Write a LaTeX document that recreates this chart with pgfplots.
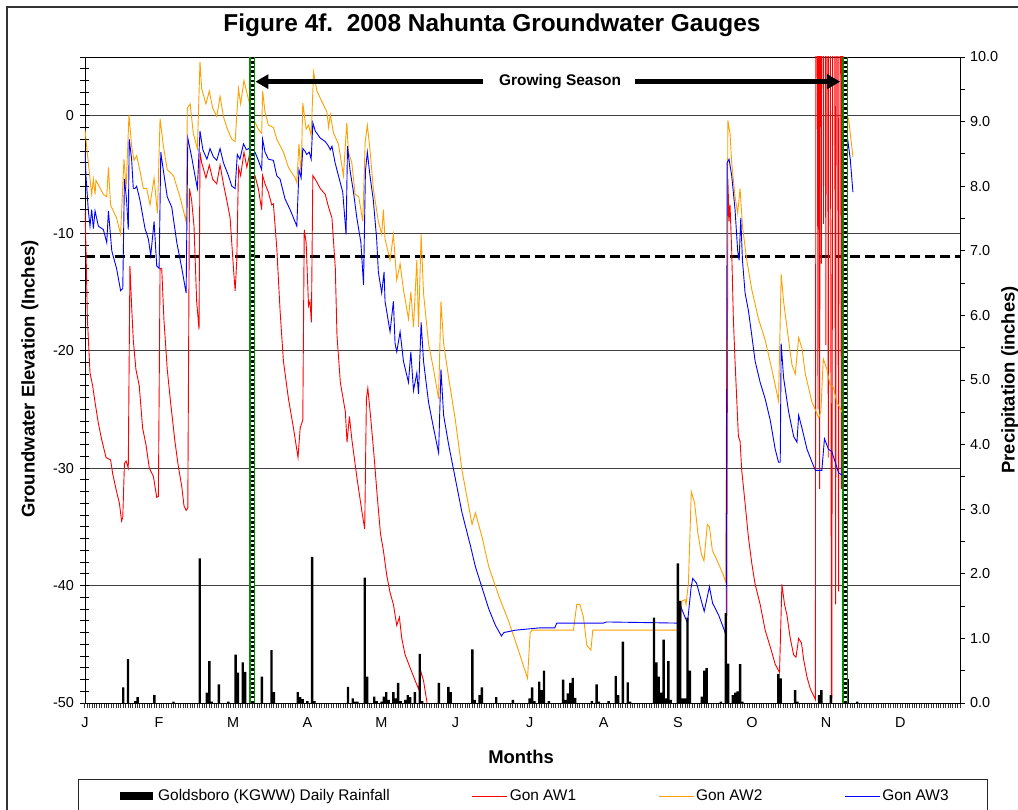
\documentclass[border=0pt]{standalone}
\usepackage{pgfplots}
\pgfplotsset{compat=1.18}
\usepackage{fontspec}
\setmainfont{Liberation Sans}
\usetikzlibrary{arrows.meta}
\definecolor{aw1}{RGB}{255,0,0}
\definecolor{aw2}{RGB}{255,160,0}
\definecolor{aw3}{RGB}{0,0,255}
\definecolor{gsgreen}{RGB}{0,140,0}
\begin{document}
\begin{tikzpicture}[x=1bp,y=1bp]
\path[use as bounding box] (-85,-107) rectangle (933,703);
\draw[black!80,line width=1.6bp] (-78,-140) rectangle (950,696);
% ---------------- groundwater axis ----------------
\begin{axis}[
  at={(0,0)}, anchor=south west,
  scale only axis, width=875bp, height=646bp,
  xmin=0, xmax=366, ymin=-50, ymax=5,
  xtick=\empty,
  ytick={-50,-40,...,0},
  minor ytick={-49,-48,...,5},
  ytick pos=left,
  tick align=center, major tick length=9bp, minor tick length=9bp,
  tick style={black,line width=0.8bp},
  axis line style={black,line width=0.9bp},
  ymajorgrids, grid style={black!75,line width=0.9bp},
  /pgf/number format/assume math mode=true,
  yticklabel style={font=\fontsize{14.5}{16}\selectfont, xshift=-3bp},
  ylabel={Groundwater Elevation (Inches)},
  ylabel style={at={(axis description cs:-0.0629,0.5015)}, anchor=center, font=\fontsize{18.5}{21}\selectfont\bfseries},
  xlabel={Months},
  xlabel style={at={(axis description cs:0.4983,-0.0836)}, anchor=center, font=\fontsize{18.5}{21}\selectfont\bfseries},
  title={Figure 4f.\ \ 2008 Nahunta Groundwater Gauges},
  title style={at={(axis description cs:0.4651,1.0402)}, anchor=center, font=\fontsize{24.5}{28}\selectfont\bfseries},
]
\addplot[black, line width=2.6bp, dash pattern=on 10bp off 5bp, forget plot] coordinates {(0,-12) (366,-12)};
% Gon AW1
\addplot[aw1, line width=0.9bp, forget plot] coordinates {
(0,-8.0) (0.4,-11.2) (1,-17.3) (2.1,-21.9) (3.2,-23.0) (4.2,-24.4) (5.6,-26.2) (7,-27.6) (8.8,-29.1) (10.7,-29.3) (11.6,-30.5) (13.2,-32) (14.4,-33.0) (15.3,-34.5) (15.8,-34.2) (16.5,-29.6) (17.2,-29.4) (18.1,-30.0) (18.8,-12.8) (19.5,-16.2) (20.2,-19.1) (21.3,-21.6) (22.7,-23.0) (24.1,-26.6) (25.5,-28.0) (26.9,-30.0) (28.6,-30.7) (30,-32.5) (30.7,-32.4) (31.4,-13.0) (32.1,-13.0) (33,-17.3) (34.4,-21.6) (35.8,-24.4) (37.6,-27.7) (39,-29.8) (40.5,-31.6) (41.4,-33.2) (42.3,-33.6) (43,-33.4) (43.7,-6.2) (44.6,-7.2) (45.6,-9.4) (46.7,-15.8) (47.7,-18.2) (48.1,-3.1) (48.8,-4.0) (50.6,-5.3) (52,-4.2) (53.4,-5.4) (55.1,-5.8) (56.5,-4.2) (57.9,-5.8) (59.3,-7.2) (60.7,-8.7) (62.1,-13.0) (62.8,-14.9) (63.5,-12.3) (64.2,-4.4) (65.1,-5.1) (66.5,-3.1) (67.7,-4.4) (68.8,-3.3) (69.7,-5.1) (71.1,-5.1) (72.5,-6.2) (73.9,-8.0) (74.3,-5.1) (75.3,-5.8) (76.7,-6.5) (78.1,-7.6) (78.8,-7.5) (80.2,-11.2) (81.6,-16.6) (83,-20.9) (85.1,-24.1) (87.2,-26.6) (89.1,-29.1) (90,-26.6) (91.1,-25.9) (91.7,-9.7) (92.5,-10.8) (93.5,-16.2) (94.1,-15.8) (94.7,-17.6) (95.3,-5.1) (96.3,-5.4) (98.4,-6.2) (100.5,-6.7) (101.9,-7.8) (103.3,-8.7) (104.7,-13.0) (105.4,-18.7) (106.8,-22.7) (108.9,-25.2) (109.6,-27.8) (110.6,-25.6) (111.7,-27.7) (113.8,-30.9) (115.9,-33.8) (117,-35.2) (117.7,-24.1) (118.3,-23.2) (119.4,-25.5) (120.8,-28.7) (122.2,-32.3) (123.6,-35.6) (124.8,-37.0) (126.2,-39.1) (127.6,-40.6) (129,-41.6) (130.4,-43.4) (131.5,-42.7) (132.5,-44.5) (133.9,-45.9) (136,-47.0) (138.1,-48.1) (139.5,-48.8) (140.6,-47.4) (141.6,-48.1) (143,-49.9) (144,-51.5) (268.3,-55) (268.9,-5.4) (269.4,-9.0) (269.8,-7.6) (270.5,-11.5) (271.2,-17.3) (271.9,-20.9) (272.6,-24.1) (273.3,-27.3) (274,-27.7) (274.7,-30.2) (276.1,-33.0) (277.5,-35.9) (278.9,-38.1) (280.3,-39.9) (282.4,-41.6) (284.5,-43.8) (286.6,-45.2) (288.7,-46.7) (290.5,-47.4) (291.5,-39.9) (292.6,-41.6) (293.6,-42.5) (295,-44.5) (296.4,-45.9) (297.4,-46.1) (298.5,-44.5) (299.7,-44.9) (300.6,-46.3) (302,-47.8) (303.4,-48.8) (304.8,-49.4) (305.5,-49.7)
(305.9,60) (306.6,-25) (306.9,60) (307.3,-31.8) (307.6,60) (308.0,-12.6) (308.4,60) (308.9,-9.2) (309.3,60) (309.9,-19.5) (310.3,60) (310.9,-29.1) (311.4,60) (312.3,-60) (313.1,60) (314.0,-41.6) (314.4,60) (315.2,-40.5) (315.6,60) (316.4,-31.8) (316.9,60) (317.3,-33)
};
% Gon AW2
\addplot[aw2, line width=0.9bp, forget plot] coordinates {
(0,-1.2) (0.4,-2.0) (2.1,-5.4) (2.8,-6.7) (3.5,-5.4) (4.2,-6.7) (4.6,-5.5) (7.7,-6.7) (9.1,-6.9) (9.8,-4.4) (10.7,-7.6) (13.2,-8.7) (14.9,-10.1) (16.3,-3.7) (17.2,-6.2) (18.4,0.1) (19.5,-2.6) (20.5,-3.8) (21.6,-3.4) (23,-4.7) (24.4,-6.2) (25.8,-6.2) (27.2,-7.6) (28.9,-5.3) (30.3,-8.3) (31.4,-0.25) (32.8,-2.6) (34.4,-4.6) (37,-5.1) (39.7,-6.9) (42.3,-9.0) (42.8,0.65) (44,1.0) (45.3,-1.5) (47,-2.8) (48.1,4.6) (48.8,2.3) (50.6,1.0) (52,2.1) (53.4,0.65) (55.1,-0.07) (56.5,1.65) (57.9,-0.07) (59.3,-1.0) (61.4,-2.0) (62.8,-2.2) (64.2,2.3) (65.1,1.0) (66.5,3.0) (68,1.7) (69.3,0.65) (70.7,-0.4) (72.5,-1.15) (73.9,-1.5) (74.3,2.1) (75.3,0.3) (76.7,-0.8) (78.8,-1.0) (80.2,-2.0) (83,-3.1) (85.1,-4.4) (87.9,-5.3) (88.6,-5.7) (89.5,-2.4) (90.4,-5.1) (91.1,1.1) (92.5,-1.15) (93.5,-0.8) (94.6,-1.7) (95.6,3.7) (97,2.1) (99.1,1.2) (101.2,0.3) (101.9,-1.0) (102.6,0.1) (104,-1.5) (106,-2.4) (108.1,-5.1) (109.5,-0.6) (110.2,-3.1) (111.6,-4.0) (113,-6.7) (114.5,-6.9) (116.2,-9.0) (117.2,-2.2) (118.1,-0.8) (119.2,-2.9) (120.6,-6.2) (122.7,-9.0) (124.1,-10.1) (124.8,-8.0) (125.5,-10.5) (127.6,-12.3) (129,-10.1) (130.4,-14.0) (131.8,-12.6) (133.2,-14.8) (135.3,-17.3) (136.3,-15.0) (137.4,-18.0) (138.8,-12.3) (139.5,-18.0) (140.6,-10.1) (141.6,-15.1) (143.7,-19.4) (145.8,-21.6) (147.9,-24.1) (148.9,-15.8) (150,-19.4) (152.1,-22.3) (154.9,-25.9) (157.7,-30.2) (161.9,-34.8) (163.3,-33.8) (166.1,-35.9) (168.9,-38.4) (173.1,-40.9) (177.3,-43.1) (180.8,-45.2) (184.3,-47.4) (185.1,-47.9) (186.2,-44.0) (187,-43.8) (204.3,-43.8) (205.7,-41.6) (207,-41.6) (208.5,-42.7) (209.9,-45.1) (211.6,-45.5) (212.4,-43.8) (249,-43.8) (249.7,-41.3) (251,-41.2) (251.4,-41.6) (252.4,-39.8) (253.6,-32.0) (255,-33.0) (256.4,-35.6) (257.8,-37.3) (258.9,-37.9) (260.3,-34.8) (261.2,-35.0) (262.4,-37.0) (264.9,-38.1) (267,-39.1) (268,-39.7) (268.9,-0.4) (269.8,-1.5) (270.5,-4.0) (271.9,-6.9) (273,-8.3) (274,-6.2) (275,-9.4) (276.8,-12.3) (278.9,-14.8) (281.7,-17.3) (284.5,-19.1) (287.3,-21.6) (290.1,-24.3) (291.2,-13.5) (292.2,-15.8) (294.3,-19.1) (295.7,-21.2) (297.1,-22.0) (298.5,-18.9) (299.9,-19.8) (301.3,-22.0) (304.1,-24.4) (306.9,-25.7) (307.8,-25.2) (308.8,-20.7) (310.2,-21.5) (311.7,-23.0) (313,-23.1) (314.5,-24.4) (316.6,-25.2) (317.3,-25.2) (318,-12.3) (318.7,-0.1) (319.4,-0.25) (320.1,-1.5) (321.2,-3.5)
};
% Gon AW3
\addplot[aw3, line width=0.9bp, forget plot] coordinates {
(0,-2.9) (0.4,-5.1) (1.4,-8.1) (2.1,-9.4) (2.8,-8.0) (3.5,-9.6) (4.2,-8.1) (5.6,-9.4) (7.7,-9.7) (9.1,-10.8) (9.8,-8.1) (11.2,-11.5) (13.2,-13.0) (14.9,-14.9) (15.8,-14.7) (16.5,-5.4) (17.4,-7.2) (18.1,-9.7) (18.5,-2.0) (19.5,-3.7) (20.2,-6.2) (20.9,-6.2) (21.6,-6.0) (23,-7.2) (25.1,-9.6) (26.5,-10.5) (27.5,-11.9) (28.9,-9.0) (30,-12.8) (31,-13.0) (31.7,-3.1) (32.8,-4.7) (34.4,-6.9) (36.3,-7.8) (38.4,-10.8) (40.5,-13.0) (42.3,-15.1) (43,-1.9) (44.6,-3.5) (46,-5.1) (47,-6.2) (48.1,-1.3) (49.3,-2.9) (51,-3.7) (52.3,-2.8) (53.7,-3.5) (55.1,-3.8) (56.5,-2.8) (57.9,-4.0) (60,-5.1) (61.4,-6.0) (62.8,-6.2) (63.7,-3.3) (64.8,-3.7) (66.3,-2.4) (67.5,-2.9) (68.5,-2.8) (69.7,-3.1) (71.1,-3.1) (72.5,-3.8) (73.9,-4.6) (74.3,-2.0) (75.3,-3.1) (76.7,-3.7) (78.8,-3.8) (80.2,-5.1) (81.6,-5.4) (83.7,-7.1) (85.8,-8.0) (88.6,-9.4) (89.5,-4.6) (90.4,-5.3) (91.1,-2.8) (92,-3.0) (92.7,-3.3) (93.8,-3.1) (94.6,-3.7) (95.3,-0.6) (96.3,-1.3) (98.4,-1.9) (100.5,-2.2) (101.9,-2.6) (102.6,-2.9) (103.3,-2.6) (104.6,-4.0) (106,-5.1) (107.8,-6.5) (109.2,-10.1) (109.8,-2.6) (110.9,-4.7) (112.3,-6.5) (113.7,-8.7) (115.4,-10.8) (116.5,-14.4) (117.3,-4.7) (118.1,-3.1) (119.2,-5.1) (120.6,-7.2) (122,-10.5) (122.7,-13.3) (124.1,-15.1) (125.1,-13.3) (125.5,-15.8) (127.6,-18.4) (129,-15.8) (129.7,-19.4) (130.4,-20.1) (131.8,-18.4) (133.2,-20.9) (135.3,-22.7) (136.3,-20.1) (137.4,-23.4) (138.8,-21.9) (139.5,-23.7) (140.6,-17.6) (141.6,-20.9) (143.7,-24.4) (145.8,-26.6) (147.9,-28.7) (148.9,-21.6) (150,-25.5) (152.1,-28.0) (154.9,-30.9) (157.7,-33.8) (161.2,-36.6) (163.3,-38.4) (166.1,-40.2) (168.9,-42.0) (171.7,-43.4) (174.2,-44.3) (175.2,-44.0) (180.1,-43.8) (190.4,-43.6) (196.5,-43.6) (197.3,-43.2) (216.8,-43.2) (218.2,-43.1) (248.5,-43.2) (249.2,-41.8) (252,-43.2) (253.5,-40.2) (254.2,-39.4) (255.8,-39.8) (259,-42.2) (261.2,-40.1) (262.5,-41.5) (265,-42.5) (267.4,-43.8) (268.2,-44.3) (268.6,-4.0) (269.4,-3.7) (270.5,-5.1) (271.9,-8.0) (273,-11.5) (273.6,-12.3) (274.3,-8.7) (275,-12.3) (276.1,-15.1) (277.5,-16.6) (278.9,-18.7) (280.3,-20.9) (282.4,-22.7) (284.5,-24.1) (286.6,-25.9) (288.7,-28.4) (290.1,-29.5) (290.8,-29.5) (291.2,-19.4) (292.2,-22.3) (294.3,-25.2) (296.4,-27.3) (297.8,-27.8) (298.5,-25.5) (299.9,-26.6) (302,-28.4) (304.1,-29.5) (305.5,-30.2) (308.2,-30.2) (309.3,-27.5) (311,-28.4) (312.4,-28.6) (313.8,-29.5) (315.2,-30.4) (316.6,-30.6) (317.7,-25.2) (318.2,-15.8) (319,-2.0) (320.1,-3.7) (321.2,-6.5)
};
\draw[line width=4.5bp, -{Triangle[length=13bp,width=14bp]}] (axis cs:166.5,2.9) -- (axis cs:71.3,2.9);
\draw[line width=4.5bp, -{Triangle[length=13bp,width=14bp]}] (axis cs:230.1,2.9) -- (axis cs:315.9,2.9);
\node[font=\fontsize{15.5}{17}\selectfont\bfseries] at (axis cs:198.7,2.9) {Growing Season};
\end{axis}
% ---------------- rainfall axis ----------------
\begin{axis}[
  at={(0,0)}, anchor=south west,
  scale only axis, width=875bp, height=646bp,
  xmin=0, xmax=366, ymin=0, ymax=10,
  axis y line*=right, axis x line*=bottom,
  axis line style={black,line width=0.9bp},
  xtick={0,31,...,341}, xticklabels={J,F,M,A,M,J,J,A,S,O,N,D},
  minor xtick={0,1,...,366},
  ytick={0,1,...,10}, minor ytick={0.5,1.5,...,9.5},
  tick align=outside, major tick length=5bp, minor tick length=5bp,
  x tick style={black!80,line width=1bp},
  y tick style={black,line width=0.8bp},
  /pgf/number format/assume math mode=true,
  yticklabel style={/pgf/number format/.cd, fixed, fixed zerofill, precision=1, /tikz/.cd, font=\fontsize{14.5}{16}\selectfont, xshift=1.5bp},
  xticklabel style={font=\fontsize{14.5}{16}\selectfont, yshift=-6bp},
  ylabel={Precipitation (inches)},
  ylabel style={at={(axis description cs:1.0571,0.5)}, anchor=center, font=\fontsize{18.5}{21}\selectfont\bfseries},
  legend columns=4,
  legend style={at={(axis description cs:0.04,-0.144)}, anchor=west, draw=none, fill=none, inner sep=0pt,
    font=\fontsize{15.5}{17}\selectfont,
    /tikz/every even column/.append style={column sep=80bp}},
]
\addplot[ybar, bar width=2.4bp, fill=black, draw=none,
  legend image code/.code={\fill[black] (0bp,-4bp) rectangle (33bp,4bp); \path (36bp,0bp);}] coordinates {
(16,0.24) (18,0.68) (21,0.03) (22,0.09) (29,0.12) (37,0.02) (48,2.24) (51,0.16) (52,0.65) (53,0.02) (56,0.29) (60,0.02) (63,0.75) (64,0.47) (66,0.63) (67,0.48) (74,0.41) (78,0.82) (79,0.17) (89,0.17) (90,0.09) (91,0.06) (93,0.03) (95,2.26) (96,0.03) (110,0.25) (112,0.07) (113,0.02) (114,0.02) (117,1.94) (118,0.41) (121,0.10) (122,0.03) (124,0.02) (125,0.10) (126,0.17) (127,0.05) (129,0.17) (130,0.07) (131,0.31) (132,0.03) (134,0.05) (135,0.12) (136,0.09) (138,0.17) (140,0.76) (141,0.03) (148,0.31) (152,0.25) (153,0.17) (162,0.83) (163,0.05) (165,0.12) (166,0.24) (172,0.09) (179,0.05) (186,0.07) (187,0.24) (188,0.03) (190,0.33) (191,0.20) (192,0.50) (194,0.03) (200,0.36) (201,0.05) (202,0.15) (203,0.31) (204,0.39) (205,0.08) (212,0.03) (214,0.29) (215,0.02) (219,0.03) (222,0.42) (223,0.12) (225,0.95) (227,0.32) (228,0.02) (238,1.32) (239,0.63) (240,0.41) (241,0.16) (242,0.98) (243,0.07) (244,0.65) (245,0.05) (248,2.16) (249,1.58) (250,0.07) (251,0.07) (252,1.32) (253,0.50) (258,0.10) (259,0.50) (260,0.54) (266,0.02) (268,1.39) (269,0.61) (271,0.12) (272,0.16) (273,0.18) (274,0.60) (275,0.02) (290,0.45) (291,0.38) (297,0.20) (298,0.02) (307,0.12) (308,0.20) (312,0.12) (319,0.37) (323,0.02)
};
\addlegendentry{Goldsboro (KGWW) Daily Rainfall\hspace{8bp}}
\addlegendimage{legend image code/.code={\draw[aw1,line width=0.9bp] (0bp,0bp) -- (35bp,0bp);}}
\addlegendentry{Gon AW1}
\addlegendimage{legend image code/.code={\draw[aw2,line width=0.9bp] (0bp,0bp) -- (35bp,0bp);}}
\addlegendentry{Gon AW2}
\addlegendimage{legend image code/.code={\draw[aw3,line width=0.9bp] (0bp,0bp) -- (35bp,0bp);}}
\addlegendentry{Gon AW3}
% growing season boundaries
\addplot[gsgreen, line width=6bp, forget plot] coordinates {(70,0) (70,10)};
\addplot[white, line width=3.4bp, forget plot] coordinates {(70,0) (70,10)};
\addplot[black, line width=3.4bp, dash pattern=on 2.4bp off 2.2bp, forget plot] coordinates {(70,0) (70,10)};
\addplot[gsgreen, line width=6bp, forget plot] coordinates {(318,0) (318,10)};
\addplot[white, line width=3.4bp, forget plot] coordinates {(318,0) (318,10)};
\addplot[black, line width=3.4bp, dash pattern=on 2.4bp off 2.2bp, forget plot] coordinates {(318,0) (318,10)};
\end{axis}
\draw[black!85,line width=1bp] (-6,-140) rectangle (902,-77);
\end{tikzpicture}
\end{document}
